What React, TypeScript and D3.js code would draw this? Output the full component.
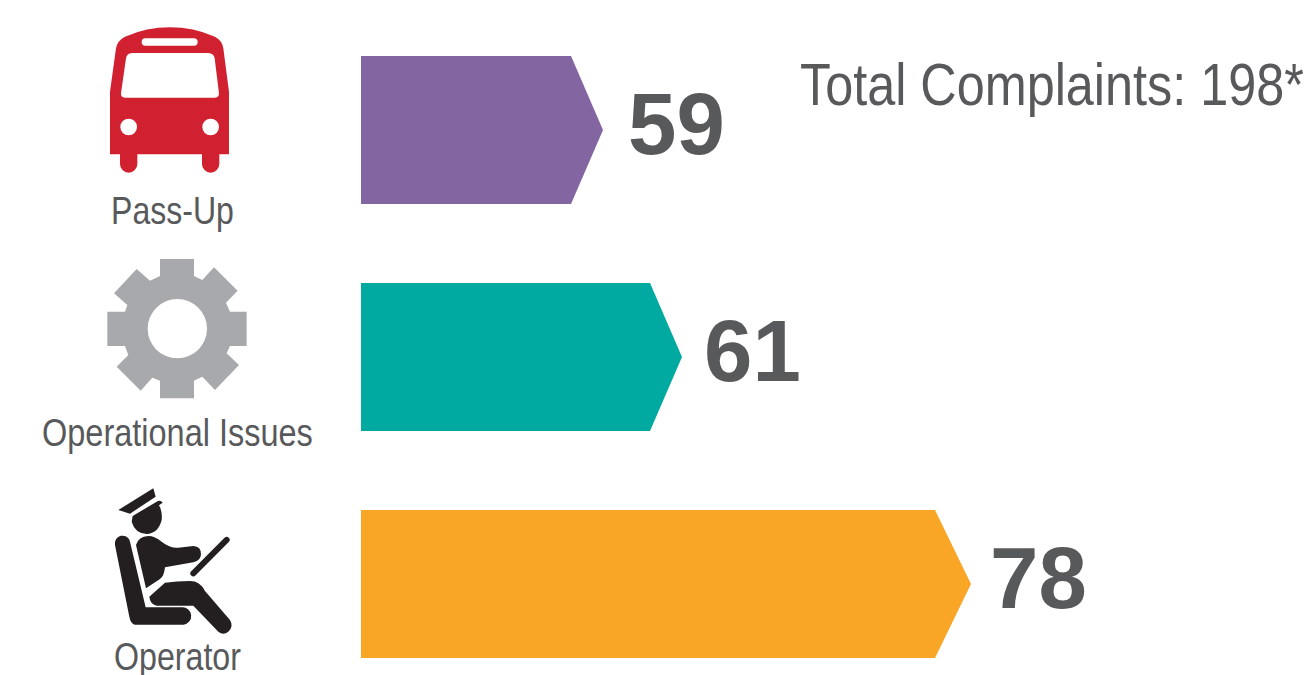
import React from "react";
import * as d3 from "d3";

const categories = ["Pass-Up", "Operational Issues", "Operator"];
const complaints = [59, 61, 78];
const barColors = ["#8365a2", "#00aaa0", "#f9a526"];
const totalLabel = "Total Complaints: 198*";

const W = 1307;
const H = 675;
const TEXT = "#58595b";
const FONT = "'Liberation Sans', Arial, sans-serif";

// The original graphic's bars are not linear in the value; this scale follows its drawn tips.
const tipX = d3.scaleLinear().domain([59, 61, 78]).range([603, 682, 971]);
const y = d3.scaleBand().domain(categories).range([56, 658]).paddingInner(79 / 227).paddingOuter(0);
const BAR_LEFT = 361;
const labelLayout: Record<string, { x: number; w: number; base: number }> = {
  "Pass-Up": { x: 111, w: 123, base: 224 },
  "Operational Issues": { x: 42, w: 271, base: 446 },
  Operator: { x: 114, w: 127, base: 670 },
};
const depth = [32, 32, 36];
const numberGap = [25, 22, 19];

// Horizontal condensing factor so a text of the given size spans the wanted width.
function condense(text: string, size: number, width: number) {
  const ctx = document.createElement("canvas").getContext("2d")!;
  ctx.font = `${size}px 'Liberation Sans', Arial, sans-serif`;
  return width / ctx.measureText(text).width;
}

const BusIcon = () => (
  <g transform="translate(90,10) scale(0.3333)">
    <path
      fill="#d12030"
      fillRule="evenodd"
      d="M60,245 L78,115 Q82,92 105,80 Q170,52 240,52 Q310,52 375,80 Q397,92 400,115 L417,245 L417,433 L388,433 L388,462 A26,26 0 0 1 336,462 L336,433 L142,433 L142,462 A26,26 0 0 1 90,462 L90,433 L60,433 Z
      M108,145 Q110,130 126,129 L355,129 Q372,130 374,145 L387,250 Q387,263 375,263 L105,263 Q92,263 93,250 Z
      M166,85 L312,85 A11,11 0 0 1 312,107 L166,107 A11,11 0 0 1 166,85 Z"
    />
    <circle cx={116} cy={351} r={25} fill="#fff" />
    <circle cx={362} cy={351} r={25} fill="#fff" />
  </g>
);

const GearIcon = () => (
  <g transform="translate(90,250) scale(0.3333)">
    <path
      fill="#a7a9ac"
      d="M210,27 L312,27 L312,78 L337,90 L372,52 L443,122 L408,158 L420,185 L470,185 L470,288 L420,288 L410,310 L447,345 L375,420 L337,380 L312,392 L312,445 L210,445 L210,392 L187,383 L152,422 L80,350 L115,315 L105,288 L52,288 L52,185 L105,185 L112,165 L72,130 L140,57 L180,92 L210,78 Z"
    />
    <circle cx={262} cy={236} r={89} fill="#fff" />
  </g>
);

const OperatorIcon = () => (
  <g transform="translate(90,470) scale(0.3333)" fill="#231f20">
    <path d="M85,120 L190,55 L197,80 L120,131 Z" />
    <path d="M125,155 L128,138 L200,95 Q212,88 218,98 L207,106 Q218,125 215,150 Q205,190 170,192 Q135,190 125,155 Z" />
    <path d="M75,225 A22,22 0 0 1 120,215 L167,412 L275,412 A25,25 0 0 1 280,464 L135,464 Q122,462 118,440 Z" />
    <path d="M138,225 Q145,200 175,198 Q195,198 215,215 Q240,235 265,233 L310,228 Q335,230 333,255 Q330,272 310,277 L225,292 Q222,320 210,327 L168,355 Z" />
    <path d="M310,310 L410,210" stroke="#231f20" strokeWidth={18} strokeLinecap="round" fill="none" />
    <path d="M178,380 L225,338 Q260,333 300,333 Q330,333 345,363 L420,450 Q432,470 415,485 Q400,497 385,485 L310,407 L200,407 Q180,402 178,380 Z" />
  </g>
);

const icons = [BusIcon, GearIcon, OperatorIcon];

export default function App() {
  return (
    <svg
      width={W}
      height={H}
      viewBox={`0 0 ${W} ${H}`}
      style={{ position: "absolute", left: 0, top: 0, background: "#fff" }}
    >
      {categories.map((c, i) => {
        const top = y(c)!;
        const bw = y.bandwidth();
        const tip = tipX(complaints[i]);
        const shoulder = tip - depth[i];
        const line = d3.line();
        const d =
          line([
            [BAR_LEFT, top],
            [shoulder, top],
            [tip, top + bw / 2],
            [shoulder, top + bw],
            [BAR_LEFT, top + bw],
          ]) + "Z";
        const Icon = icons[i];
        const l = labelLayout[c];
        return (
          <g key={c}>
            <path d={d} fill={barColors[i]} />
            <Icon />
            <text
              x={tip + numberGap[i]}
              y={top + 98}
              fontFamily={FONT}
              fontWeight={700}
              fontSize={87}
              fill={TEXT}
            >
              {complaints[i]}
            </text>
            <text
              transform={`translate(${l.x},${l.base}) scale(${condense(c, 39, l.w)},1)`}
              fontFamily={FONT}
              fontSize={39}
              fill={TEXT}
            >
              {c}
            </text>
          </g>
        );
      })}
      <text
        transform={`translate(800,105) scale(${condense(totalLabel, 60, 504)},1)`}
        fontFamily={FONT}
        fontSize={60}
        fill={TEXT}
      >
        {totalLabel}
      </text>
    </svg>
  );
}
